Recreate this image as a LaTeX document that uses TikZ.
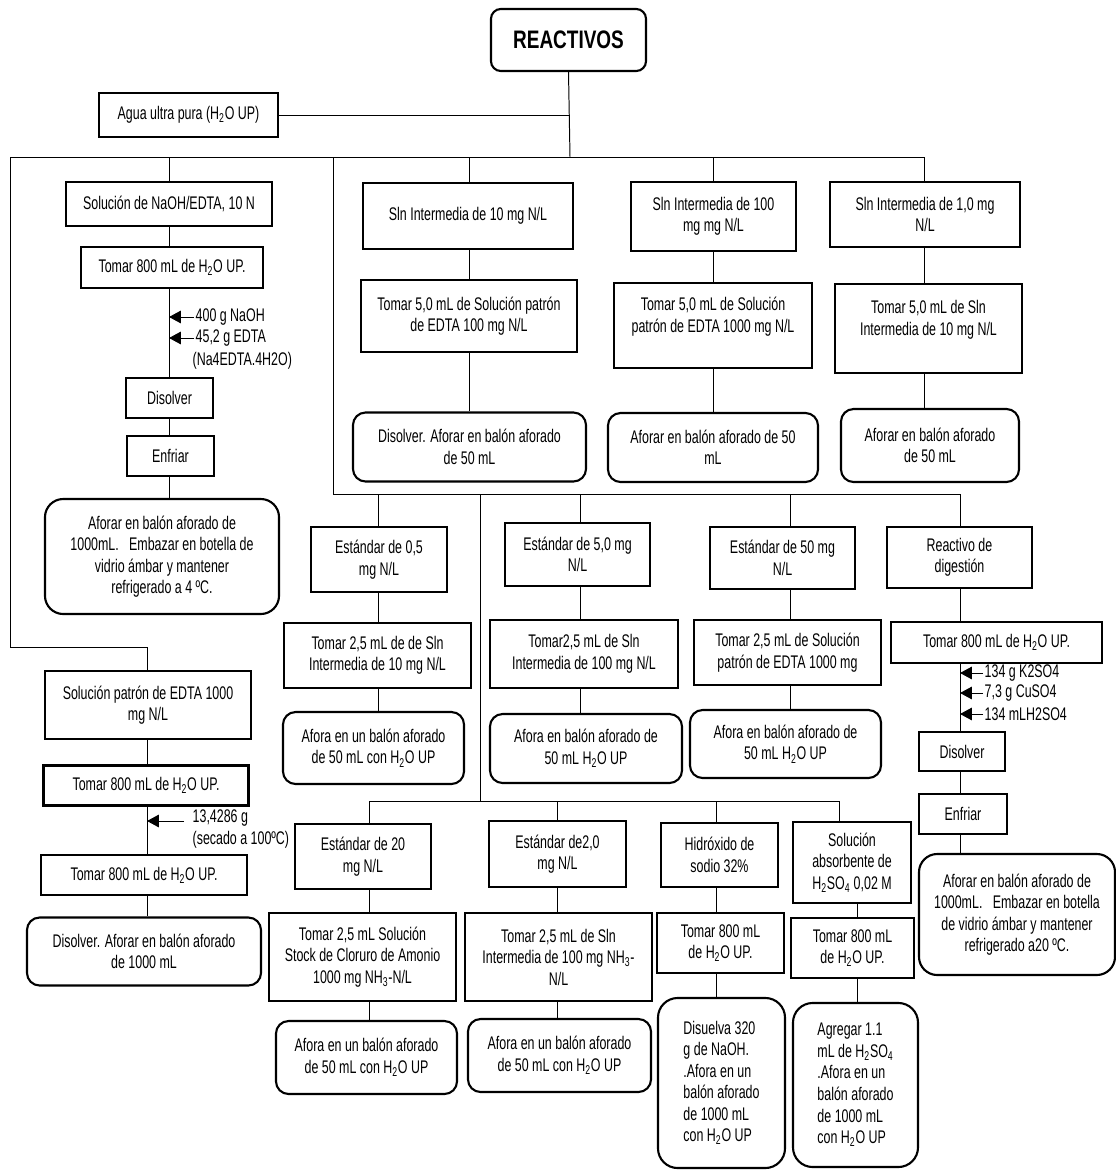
\documentclass[tikz,border=0pt]{standalone}
\usepackage{fontspec}
\setmainfont[FakeStretch=0.68]{Liberation Sans}
\newfontfamily\titulo[FakeStretch=0.75]{Liberation Sans}
\usetikzlibrary{arrows.meta}
\newcommand{\Hdos}{H\textsubscript{2}O}
\tikzset{
  caja/.style={draw,line width=1.5pt,align=center,inner sep=1pt,font=\fontsize{13}{15.3}\selectfont},
  redonda/.style={caja,rounded corners=9pt},
  linea/.style={line width=0.7pt},
  flecha/.style={linea,-{Triangle[length=8.5pt,width=9pt]}},
  nota/.style={inner sep=1pt,align=left,font=\fontsize{13}{15.3}\selectfont},
}
\begin{document}
\begin{tikzpicture}[x=0.025cm,y=-0.025cm]
  \useasboundingbox (0,0) rectangle (1116,1170);
  % titulo y agua
  \node[caja,rounded corners=7pt,minimum width=3.875cm,minimum height=1.55cm,
    font={\titulo\bfseries\fontsize{18}{20}\selectfont}] (reactivos) at (568.5,40) {REACTIVOS};
  \node[caja,minimum width=4.475cm,minimum height=1.1cm] (agua) at (188.5,115) {Agua ultra pura (\Hdos\ UP)};
  % columna NaOH/EDTA
  \node[caja,minimum width=5.15cm,minimum height=1.1cm] (naoh) at (169,204) {Solución de NaOH/EDTA, 10 N};
  \node[caja,minimum width=4.55cm,minimum height=1.025cm] (tomarA) at (172,267.5) {Tomar 800 mL de \Hdos\ UP.};
  \node[caja,minimum width=2.175cm,minimum height=1cm] (disolverA) at (169.5,398) {Disolver};
  \node[caja,minimum width=2.175cm,minimum height=1cm] (enfriarA) at (170.5,456) {Enfriar};
  \node[redonda,rounded corners=13pt,minimum width=5.85cm,minimum height=2.875cm] (aforarA) at (162,556.5)
    {Aforar en balón aforado de\\1000mL.~~~Embazar en botella de\\vidrio ámbar y mantener\\refrigerado a 4 ºC.};
  \node[nota,anchor=west] (naoh400) at (194,317) {400 g NaOH};
  \node[nota,anchor=west] (edta) at (194,338) {45,2 g EDTA};
  \node[nota,anchor=west] (na4) at (191,361) {(Na4EDTA.4H2O)};
  % columna patron EDTA
  \node[caja,minimum width=5.15cm,minimum height=1.7cm] (patron) at (148,705) {Solución patrón de EDTA 1000\\mg N/L};
  \node[caja,minimum width=5.125cm,minimum height=1cm] (tomarB) at (146,785.5) {Tomar 800 mL de \Hdos\ UP.};
  \node[caja,minimum width=5.15cm,minimum height=1cm] (tomarC) at (144,875) {Tomar 800 mL de \Hdos\ UP.};
  \node[redonda,minimum width=5.85cm,minimum height=1.7cm] (disolverC) at (144,951.5) {Disolver. Aforar en balón aforado\\de 1000 mL};
  \node[nota,anchor=west] (seco) at (191,829) {13,4286 g\\(secado a 100ºC)};
  % soluciones intermedias
  \node[caja,minimum width=5.25cm,minimum height=1.65cm] (sln10) at (468,216) {Sln Intermedia de 10 mg N/L};
  \node[caja,minimum width=5.4cm,minimum height=1.8cm] (tomar10) at (469,316) {Tomar 5,0 mL de Solución patrón\\de EDTA 100 mg N/L};
  \node[redonda,minimum width=5.825cm,minimum height=1.725cm] (aforar10) at (469.5,447) {Disolver. Aforar en balón aforado\\de 50 mL};
  \node[caja,minimum width=4.125cm,minimum height=1.725cm] (sln100) at (713.5,216.5) {Sln Intermedia de 100\\mg mg N/L};
  \node[caja,minimum width=4.95cm,minimum height=2.125cm] (tomar100) at (713,325.5) {Tomar 5,0 mL de Solución\\patrón de EDTA 1000 mg N/L\\ \mbox{}};
  \node[redonda,minimum width=5.25cm,minimum height=1.725cm] (aforar100) at (713,447.5) {Aforar en balón aforado de 50\\mL};
  \node[caja,minimum width=4.75cm,minimum height=1.625cm] (sln1) at (925,214.5) {Sln Intermedia de 1,0 mg\\N/L};
  \node[caja,minimum width=4.675cm,minimum height=2.225cm] (tomar1) at (928.5,328.5) {Tomar 5,0 mL de Sln\\Intermedia de 10 mg N/L\\ \mbox{}};
  \node[redonda,minimum width=4.45cm,minimum height=1.825cm] (aforar1) at (930,445.5) {Aforar en balón aforado\\de 50 mL};
  % estandares
  \node[caja,minimum width=3.4cm,minimum height=1.625cm] (est05) at (379,559.5) {Estándar de 0,5\\mg N/L};
  \node[caja,minimum width=4.675cm,minimum height=1.625cm] (tomar05) at (377.5,655.5) {Tomar 2,5 mL de de Sln\\Intermedia de 10 mg N/L};
  \node[redonda,minimum width=4.525cm,minimum height=1.8cm] (afora05) at (373.5,748) {Afora en un balón aforado\\de 50 mL con \Hdos\ UP};
  \node[caja,minimum width=3.625cm,minimum height=1.575cm] (est5) at (577.5,554.5) {Estándar de 5,0 mg\\N/L};
  \node[caja,minimum width=4.7cm,minimum height=1.7cm] (tomar5) at (584,654) {Tomar2,5 mL de Sln\\Intermedia de 100 mg N/L};
  \node[redonda,minimum width=4.8cm,minimum height=1.725cm] (afora5) at (586,748.5) {Afora en balón aforado de\\50 mL \Hdos\ UP};
  \node[caja,minimum width=3.625cm,minimum height=1.55cm] (est50) at (782.5,558) {Estándar de 50 mg\\N/L};
  \node[caja,minimum width=4.675cm,minimum height=1.625cm] (tomar50) at (787.5,652.5) {Tomar 2,5 mL de Solución\\patrón de EDTA 1000 mg};
  \node[redonda,minimum width=4.775cm,minimum height=1.7cm] (afora50) at (785.5,744) {Afora en balón aforado de\\50 mL \Hdos\ UP};
  % reactivo de digestion
  \node[caja,minimum width=3.625cm,minimum height=1.525cm] (reactivo) at (959.5,557.5) {Reactivo de\\digestión};
  \node[caja,minimum width=5.275cm,minimum height=1.025cm] (tomarR) at (996.5,642.5) {Tomar 800 mL de \Hdos\ UP.};
  \node[caja,minimum width=2.15cm,minimum height=0.975cm] (disolverR) at (962,751.5) {Disolver};
  \node[caja,minimum width=2.2cm,minimum height=1cm] (enfriarR) at (963,814) {Enfriar};
  \node[redonda,rounded corners=13pt,minimum width=4.9cm,minimum height=3.025cm] (aforarR) at (1017,914.5)
    {Aforar en balón aforado de\\1000mL.~~~Embazar en botella\\de vidrio ámbar y mantener\\refrigerado a20 ºC.};
  \node[nota,anchor=west] (k2so4) at (983,673) {134 g K2SO4};
  \node[nota,anchor=west] (cuso4) at (983,693) {7,3 g CuSO4};
  \node[nota,anchor=west] (h2so4) at (983,714) {134 mLH2SO4};
  % fila inferior
  \node[caja,minimum width=3.4cm,minimum height=1.625cm] (est20) at (363,856.5) {Estándar de 20\\mg N/L};
  \node[caja,minimum width=4.675cm,minimum height=2.2cm] (tomar20) at (362.5,957) {Tomar 2,5 mL Solución\\Stock de Cloruro de Amonio\\1000 mg NH\textsubscript{3}-N/L};
  \node[redonda,minimum width=4.525cm,minimum height=1.825cm] (afora20) at (366.5,1057.5) {Afora en un balón aforado\\de 50 mL con \Hdos\ UP};
  \node[caja,minimum width=3.425cm,minimum height=1.65cm] (est2) at (557.5,854) {Estándar de2,0\\mg N/L};
  \node[caja,minimum width=4.675cm,minimum height=2.2cm] (tomar2) at (558.5,957) {Tomar 2,5 mL de Sln\\Intermedia de 100 mg NH\textsubscript{3}-\\N/L};
  \node[redonda,minimum width=4.575cm,minimum height=1.825cm] (afora2) at (559.5,1055.5) {Afora en un balón aforado\\de 50 mL con \Hdos\ UP};
  \node[caja,minimum width=2.925cm,minimum height=1.6cm] (hidroxido) at (719.5,855) {Hidróxido de\\sodio 32\%};
  \node[caja,minimum width=2.95cm,minimum height=2.025cm] (absorbente) at (852,862.5) {Solución\\absorbente de\\H\textsubscript{2}SO\textsubscript{4} 0,02 M};
  \node[caja,minimum width=3.175cm,minimum height=1.5cm] (tomarH) at (720.5,943) {Tomar 800 mL\\de \Hdos\ UP.};
  \node[caja,minimum width=3.075cm,minimum height=1.5cm] (tomarS) at (852.5,948) {Tomar 800 mL\\de \Hdos\ UP.};
  \node[redonda,align=left,rounded corners=14pt,minimum width=3.175cm,minimum height=4.25cm] (disuelva) at (721.5,1083)
    {Disuelva 320\\g de NaOH.\\.Afora en un\\balón aforado\\de 1000 mL\\con \Hdos\ UP};
  \node[redonda,align=left,rounded corners=14pt,minimum width=3.125cm,minimum height=4.1cm] (agregar) at (855.5,1085)
    {Agregar 1.1\\mL de H\textsubscript{2}SO\textsubscript{4}\\.Afora en un\\balón aforado\\de 1000 mL\\con \Hdos\ UP};
  % buses
  \coordinate (b1) at (570,157);
  \coordinate (izq) at (10,157);
  \coordinate (cA) at (169,157);
  \coordinate (c10) at (469,157);
  \coordinate (c100) at (713,157);
  \coordinate (c1) at (924,157);
  \coordinate (cP) at (147,647);
  \coordinate (b2) at (333,494);
  \coordinate (c05) at (378,494);
  \coordinate (c5) at (580,494);
  \coordinate (c50) at (790,494);
  \coordinate (cR) at (960,494);
  \coordinate (b3) at (480,801);
  \coordinate (c20) at (369,801);
  \coordinate (c2) at (557,801);
  \coordinate (cH) at (716,801);
  \coordinate (cS) at (839,801);
  \coordinate (cS2) at (857,801);
  \draw[linea] (reactivos.south) -- (b1);
  \draw[linea] (agua.east) -- (agua.east -| b1);
  \draw[linea] (izq) -- (c1);
  \draw[linea] (izq) -- (izq |- cP) -- (cP) -- (cP |- patron.north);
  \draw[linea] (b2 |- b1) -- (b2) -- (cR);
  \draw[linea] (b3 |- b2) -- (b3);
  \draw[linea] (c20) -- (cS);
  \foreach \c/\n in {cA/naoh,c10/sln10,c100/sln100,c1/sln1,c05/est05,c5/est5,c50/est50,cR/reactivo,
      c20/est20,c2/est2,cH/hidroxido,cS/absorbente}
    \draw[linea] (\c) -- (\c |- \n.north);
  % uniones verticales
  \foreach \c/\a/\b in {cA/naoh/tomarA,cA/tomarA/disolverA,cA/disolverA/enfriarA,cA/enfriarA/aforarA,
      cP/patron/tomarB,cP/tomarB/tomarC,cP/tomarC/disolverC,
      c10/sln10/tomar10,c10/tomar10/aforar10,c100/sln100/tomar100,c100/tomar100/aforar100,
      c1/sln1/tomar1,c1/tomar1/aforar1,c05/est05/tomar05,c05/tomar05/afora05,
      c5/est5/tomar5,c5/tomar5/afora5,c50/est50/tomar50,c50/tomar50/afora50,
      cR/reactivo/tomarR,cR/tomarR/disolverR,cR/disolverR/enfriarR,cR/enfriarR/aforarR,
      c20/est20/tomar20,c20/tomar20/afora20,c2/est2/tomar2,c2/tomar2/afora2,
      cH/hidroxido/tomarH,cH/tomarH/disuelva,cS2/absorbente/tomarS,cS2/tomarS/agregar}
    \draw[linea] (\c |- \a.south) -- (\c |- \b.north);
  % flechas de reactivos
  \draw[flecha] (naoh400.west) -- (cA |- naoh400.west);
  \draw[flecha] (edta.west) -- (cA |- edta.west);
  \coordinate (colaB) at (184,821);
  \draw[flecha] (colaB) -- (cP |- colaB);
  \foreach \n in {k2so4,cuso4,h2so4}
    \draw[flecha] (\n.west) -- (cR |- \n.west);
\end{tikzpicture}
\end{document}
